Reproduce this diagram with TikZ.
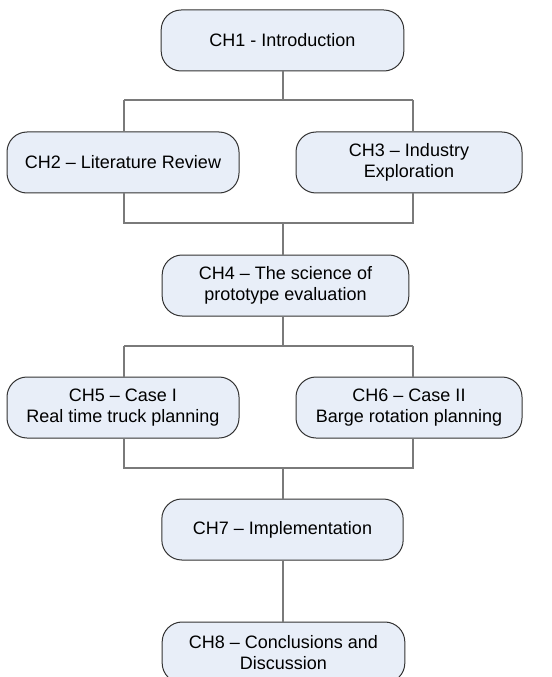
\documentclass[tikz,border=0pt]{standalone}
\usepackage{fontspec}
\setmainfont{Liberation Sans}
\usetikzlibrary{calc}
\definecolor{boxfill}{HTML}{E8EEF8}
\definecolor{boxline}{HTML}{333333}
\definecolor{linkline}{HTML}{7A7A7A}
\begin{document}
\begin{tikzpicture}[x=0.75pt,y=-0.75pt,
  chapter/.style={draw=boxline,line width=0.75pt,fill=boxfill,rounded corners=15pt,
    minimum height=45.75pt,align=center,inner sep=0pt,
    font=\fontsize{13.5pt}{15.75pt}\selectfont},
  link/.style={draw=linkline,line width=1.3pt}]
\path[use as bounding box,clip] (0,0) rectangle (552,677);
\fill[white] (0,0) rectangle (552,677);

% chapter boxes
\node[chapter,minimum width=182pt] (ch1) at (282.5,40.5) {CH1 - Introduction};
\node[chapter,minimum width=174pt] (ch2) at (123,162.5) {CH2 – Literature Review};
\node[chapter,minimum width=169.5pt] (ch3) at (409,162.5) {CH3 – Industry\\Exploration};
\node[chapter,minimum width=185pt] (ch4) at (285.5,285.5) {CH4 – The science of\\prototype evaluation};
\node[chapter,minimum width=174pt] (ch5) at (123,407.5) {CH5 – Case I\\Real time truck planning};
\node[chapter,minimum width=169.5pt] (ch6) at (409,407.5) {CH6 – Case II\\Barge rotation planning};
\node[chapter,minimum width=181pt] (ch7) at (282.5,529.5) {CH7 – Implementation};
\node[chapter,minimum width=182pt] (ch8) at (283.5,652.5) {CH8 – Conclusions and\\Discussion};

% branch points of the connectors
\coordinate (s1) at (283,100);
\coordinate (l1) at (124,100);
\coordinate (r1) at (413,100);
\coordinate (m2) at (283,223);
\coordinate (l2) at (124,223);
\coordinate (r2) at (413,223);
\coordinate (s3) at (283,346);
\coordinate (l3) at (124,346);
\coordinate (r3) at (413,346);
\coordinate (m4) at (283,468);
\coordinate (l4) at (124,468);
\coordinate (r4) at (413,468);

% CH1 splits into CH2 and CH3
\draw[link] (ch1.south -| s1) -- (s1);
\draw[link] (l1) -- (r1);
\draw[link] (l1) -- (l1 |- ch2.north);
\draw[link] (r1) -- (r1 |- ch3.north);
% CH2 and CH3 join into CH4
\draw[link] (ch2.south -| l2) -- (l2) -- (r2) -- (r2 |- ch3.south);
\draw[link] (m2) -- (m2 |- ch4.north);
% CH4 splits into CH5 and CH6
\draw[link] (ch4.south -| s3) -- (s3);
\draw[link] (l3) -- (r3);
\draw[link] (l3) -- (l3 |- ch5.north);
\draw[link] (r3) -- (r3 |- ch6.north);
% CH5 and CH6 join into CH7
\draw[link] (ch5.south -| l4) -- (l4) -- (r4) -- (r4 |- ch6.south);
\draw[link] (m4) -- (m4 |- ch7.north);
% CH7 to CH8
\draw[link] (ch7.south -| m4) -- (m4 |- ch8.north);
\end{tikzpicture}
\end{document}
